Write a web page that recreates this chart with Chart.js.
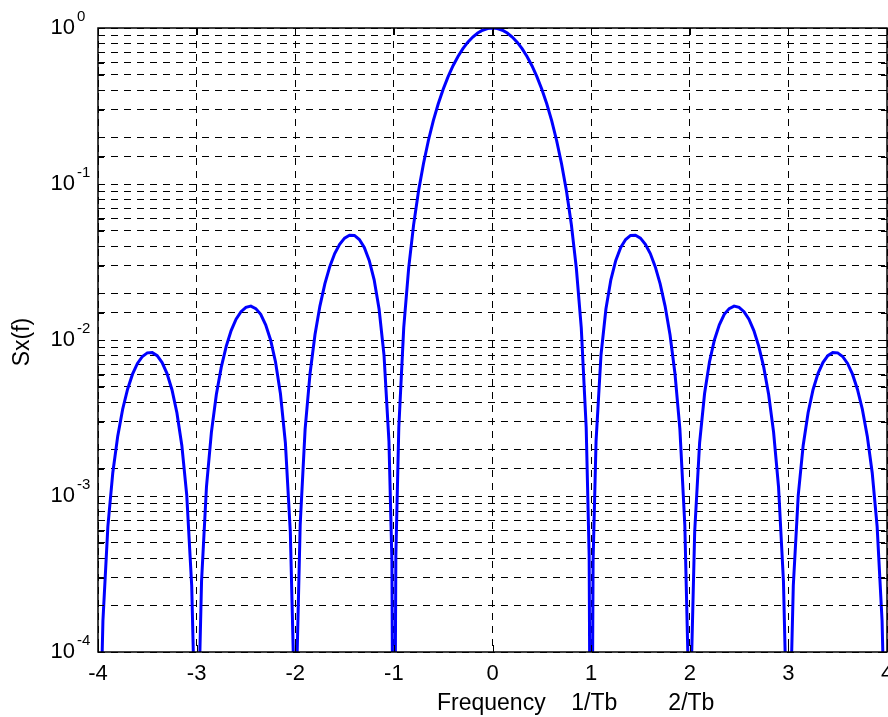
<!DOCTYPE html>
<html>
<head>
<meta charset="utf-8">
<title>Sx(f)</title>
<script src="https://cdn.jsdelivr.net/npm/chart.js@4.4.0/dist/chart.umd.min.js"></script>
<style>
  html, body { margin: 0; padding: 0; background: #fff; }
  #wrap { width: 888px; height: 717px; }
</style>
</head>
<body>
<div id="wrap"><canvas id="psd" width="888" height="717"></canvas></div>
<script>
// frequency axis (multiples of 1/Tb) and the spectrum
// nulls sit below the 1e-4 floor, written as 1e-6 so the line runs off the axis
var freq = [
  -4.00, -3.98, -3.95, -3.90, -3.85, -3.80, -3.75, -3.70, -3.65, -3.60, -3.55,
  -3.50, -3.45, -3.40, -3.35, -3.30, -3.25, -3.20, -3.15, -3.10, -3.05, -3.02,
  -3.00, -2.98, -2.95, -2.90, -2.85, -2.80, -2.75, -2.70, -2.65, -2.60, -2.55,
  -2.50, -2.45, -2.40, -2.35, -2.30, -2.25, -2.20, -2.15, -2.10, -2.05, -2.02,
  -2.00, -1.98, -1.95, -1.90, -1.85, -1.80, -1.75, -1.70, -1.65, -1.60, -1.55,
  -1.50, -1.45, -1.40, -1.35, -1.30, -1.25, -1.20, -1.15, -1.10, -1.05, -1.02,
  -1.00, -0.98, -0.95, -0.90, -0.85, -0.80, -0.75, -0.70, -0.65, -0.60, -0.55,
  -0.50, -0.45, -0.40, -0.35, -0.30, -0.25, -0.20, -0.15, -0.10, -0.05,
   0.00,
   0.05,  0.10,  0.15,  0.20,  0.25,  0.30,  0.35,  0.40,  0.45,  0.50,
   0.55,  0.60,  0.65,  0.70,  0.75,  0.80,  0.85,  0.90,  0.95,  0.98,  1.00,
   1.02,  1.05,  1.10,  1.15,  1.20,  1.25,  1.30,  1.35,  1.40,  1.45,  1.50,
   1.55,  1.60,  1.65,  1.70,  1.75,  1.80,  1.85,  1.90,  1.95,  1.98,  2.00,
   2.02,  2.05,  2.10,  2.15,  2.20,  2.25,  2.30,  2.35,  2.40,  2.45,  2.50,
   2.55,  2.60,  2.65,  2.70,  2.75,  2.80,  2.85,  2.90,  2.95,  2.98,  3.00,
   3.02,  3.05,  3.10,  3.15,  3.20,  3.25,  3.30,  3.35,  3.40,  3.45,  3.50,
   3.55,  3.60,  3.65,  3.70,  3.75,  3.80,  3.85,  3.90,  3.95,  3.98,  4.00
];
var sx = [
  1e-6, 0.0000252, 0.000159, 0.000636, 0.00141, 0.00242, 0.00360, 0.00484, 0.00604, 0.00707, 0.00784,
  0.00827, 0.00830, 0.00793, 0.00717, 0.00609, 0.00480, 0.00342, 0.00211, 0.00101, 0.000267, 0.0000438,
  1e-6, 0.0000450, 0.000285, 0.00115, 0.00257, 0.00447, 0.00670, 0.00910, 0.0115, 0.0136, 0.0152,
  0.0162, 0.0165, 0.0159, 0.0146, 0.0125, 0.0100, 0.00723, 0.00452, 0.00219, 0.000590, 0.0000979,
  1e-6, 0.000102, 0.000652, 0.00268, 0.00610, 0.0108, 0.0165, 0.0229, 0.0295, 0.0358, 0.0411,
  0.0450, 0.0470, 0.0468, 0.0441, 0.0392, 0.0324, 0.0243, 0.0158, 0.00800, 0.00225, 0.000384,
  1e-6, 0.000416, 0.00275, 0.0120, 0.0289, 0.0547, 0.0901, 0.135, 0.190, 0.255, 0.327,
  0.405, 0.488, 0.573, 0.657, 0.737, 0.811, 0.875, 0.928, 0.968, 0.992,
  1.0,
  0.992, 0.968, 0.928, 0.875, 0.811, 0.737, 0.657, 0.573, 0.488, 0.405,
  0.327, 0.255, 0.190, 0.135, 0.0901, 0.0547, 0.0289, 0.0120, 0.00275, 0.000416, 1e-6,
  0.000384, 0.00225, 0.00800, 0.0158, 0.0243, 0.0324, 0.0392, 0.0441, 0.0468, 0.0470, 0.0450,
  0.0411, 0.0358, 0.0295, 0.0229, 0.0165, 0.0108, 0.00610, 0.00268, 0.000652, 0.000102, 1e-6,
  0.0000979, 0.000590, 0.00219, 0.00452, 0.00723, 0.0100, 0.0125, 0.0146, 0.0159, 0.0165, 0.0162,
  0.0152, 0.0136, 0.0115, 0.00910, 0.00670, 0.00447, 0.00257, 0.00115, 0.000285, 0.0000450, 1e-6,
  0.0000438, 0.000267, 0.00101, 0.00211, 0.00342, 0.00480, 0.00609, 0.00717, 0.00793, 0.00830, 0.00827,
  0.00784, 0.00707, 0.00604, 0.00484, 0.00360, 0.00242, 0.00141, 0.000636, 0.000159, 0.0000252, 1e-6
];
var xTicks = [-4, -3, -2, -1, 0, 1, 2, 3, 4];
var yExponents = [0, -1, -2, -3, -4];
var xTitle = 'Frequency    1/Tb        2/Tb';
var yTitle = 'Sx(f)';

var FONT = "'Liberation Sans', Arial, sans-serif";

var points = [];
for (var i = 0; i < freq.length; i++) {
    points.push({ x: freq[i], y: sx[i] });
}

// matlab style box, inward ticks, superscript tick labels
var axesDecor = {
    id: 'axesDecor',
    afterDraw: function(chart) {
        var ctx = chart.ctx;
        var a = chart.chartArea;
        var xs = chart.scales.x;
        var ys = chart.scales.y;
        ctx.save();
        ctx.strokeStyle = '#000';
        ctx.lineWidth = 1;
        ctx.setLineDash([]);
        ctx.beginPath();
        xTicks.forEach(function(v) {
            var px = Math.round(xs.getPixelForValue(v)) + 0.5;
            ctx.moveTo(px, a.bottom); ctx.lineTo(px, a.bottom - 7);
            ctx.moveTo(px, a.top); ctx.lineTo(px, a.top + 7);
        });
        ys.ticks.forEach(function(t) {
            var py = Math.round(ys.getPixelForValue(t.value)) + 0.5;
            ctx.moveTo(a.left, py); ctx.lineTo(a.left + 6, py);
            ctx.moveTo(a.right, py); ctx.lineTo(a.right - 6, py);
        });
        ctx.stroke();

        ctx.lineWidth = 1.5;
        ctx.strokeRect(a.left, a.top, a.right - a.left, a.bottom - a.top);

        ctx.fillStyle = '#000';
        // x tick labels
        ctx.font = '22px ' + FONT;
        ctx.textAlign = 'center';
        ctx.textBaseline = 'alphabetic';
        xTicks.forEach(function(v) {
            ctx.fillText(String(v), xs.getPixelForValue(v), 680);
        });
        // y tick labels 10^n
        yExponents.forEach(function(e) {
            var py = ys.getPixelForValue(Math.pow(10, e));
            ctx.font = '22px ' + FONT;
            ctx.textAlign = 'right';
            ctx.fillText('10', 75, py + 6);
            ctx.font = '15px ' + FONT;
            ctx.textAlign = 'left';
            ctx.fillText(String(e), 77, py - 7);
        });
        // axis titles
        ctx.font = '23px ' + FONT;
        ctx.textAlign = 'left';
        ctx.fillText(xTitle, 437, 710);
        ctx.translate(23, 342);
        ctx.rotate(-Math.PI / 2);
        ctx.textAlign = 'center';
        ctx.textBaseline = 'middle';
        ctx.fillText(yTitle, 0, 0);
        ctx.restore();
    }
};

var ctx = document.getElementById('psd').getContext('2d');
var psdChart = new Chart(ctx, {
    type: 'line',
    data: {
        datasets: [{
            label: 'Sx(f)',
            data: points,
            borderColor: '#0000ff',
            borderWidth: 3,
            pointRadius: 0,
            tension: 0,
            fill: false,
            clip: 0
        }]
    },
    options: {
        responsive: false,
        animation: false,
        devicePixelRatio: 1,
        layout: { padding: { left: 98, top: 28, right: 1, bottom: 65 } },
        plugins: {
            legend: { display: false },
            tooltip: { enabled: false }
        },
        scales: {
            x: {
                type: 'linear',
                min: -4,
                max: 4,
                ticks: { stepSize: 1, display: false },
                grid: { color: '#000', lineWidth: 1, drawTicks: false },
                border: { display: false, dash: [7, 6] }
            },
            y: {
                type: 'logarithmic',
                min: 1e-4,
                max: 1,
                ticks: { display: false },
                grid: { color: '#000', lineWidth: 1, drawTicks: false },
                border: { display: false, dash: [7, 6] }
            }
        }
    },
    plugins: [axesDecor]
});
</script>
</body>
</html>
